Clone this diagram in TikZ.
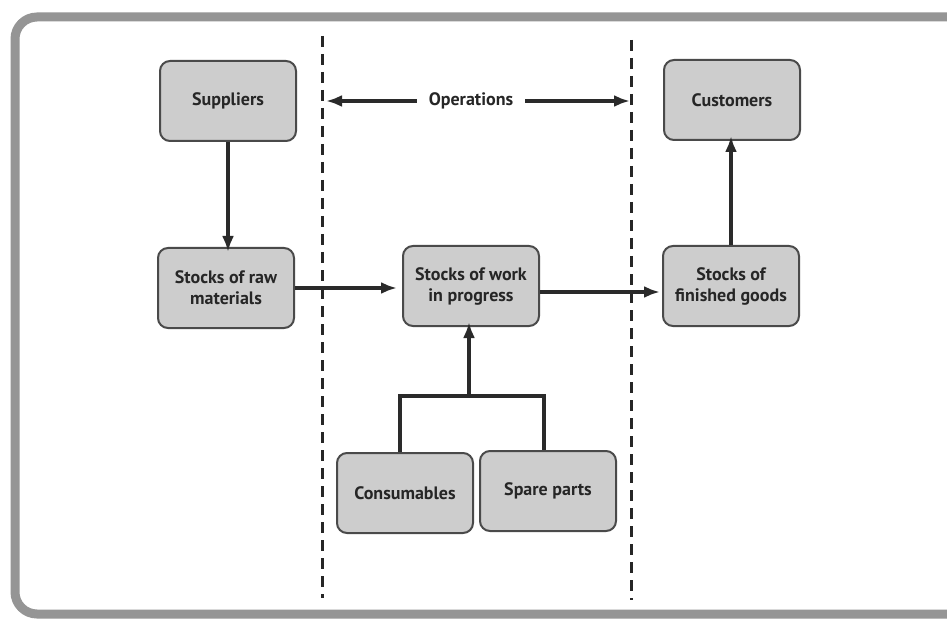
\documentclass[tikz,border=0pt]{standalone}
\usepackage{fontspec}
\setmainfont{PT Sans}
\usetikzlibrary{arrows.meta}
\definecolor{boxfill}{HTML}{CDCDCD}
\definecolor{boxline}{HTML}{4A4A4A}
\definecolor{framegray}{HTML}{959595}
\definecolor{inkline}{HTML}{2A2A2A}
\tikzset{
  labelfont/.style={font=\fontsize{18}{21}\selectfont\bfseries, text=black!85},
  stockbox/.style={draw=boxline, fill=boxfill, line width=2pt, rounded corners=10pt,
    minimum width=136pt, minimum height=80pt, align=center, labelfont},
  flow/.style={draw=inkline, line width=3.2pt, -{Latex[length=16pt,width=12pt]}},
  plain/.style={draw=inkline, line width=3.2pt},
  divider/.style={draw=black!85, line width=3pt, dash pattern=on 11pt off 7pt},
}
\begin{document}
\begin{tikzpicture}[x=1pt,y=-1pt]
  \useasboundingbox (0,0) rectangle (947,620);
  \fill[white] (0,0) rectangle (947,620);
  % outer frame, running off the right edge
  \begin{scope}
    \clip (0,0) rectangle (947,620);
    \draw[framegray, line width=9pt, rounded corners=22pt] (15,17) rectangle (980,614);
  \end{scope}

  % operations boundaries
  \coordinate (d1t) at (322,36);
  \coordinate (d1b) at (322,598);
  \coordinate (d2t) at (631,40);
  \coordinate (d2b) at (631,600);
  \draw[divider] (d1t) -- (d1b);
  \draw[divider] (d2t) -- (d2b);

  \node[labelfont, inner sep=0pt] (ops) at (471,101) {Operations};
  \coordinate (opl) at (326,101);
  \coordinate (opr) at (630,101);
  \draw[flow] ([xshift=-12pt]ops.west) -- (opl);
  \draw[flow] ([xshift=12pt]ops.east) -- (opr);

  % stock points
  \node[stockbox] (sup) at (228,101) {Suppliers};
  \node[stockbox] (raw) at (226,288) {Stocks of raw\\materials};
  \node[stockbox] (wip) at (471,286) {Stocks of work\\in progress};
  \node[stockbox] (fin) at (731,286) {Stocks of\\finished goods};
  \node[stockbox] (cus) at (732,100) {Customers};
  \node[stockbox] (con) at (405,493) {Consumables};
  \node[stockbox] (spa) at (548,491) {Spare parts};

  % material flow
  \draw[flow] (sup.south -| 228,0) -- ([yshift=-5pt]raw.north -| 228,0);
  \draw[flow] (raw.east |- 0,288) -- ([xshift=-5pt]wip.west |- 0,288);
  \draw[flow] (wip.east |- 0,292) -- ([xshift=-2pt]fin.west |- 0,292);
  \draw[flow] (fin.north -| 731,0) -- ([yshift=5pt]cus.south -| 731,0);

  % consumables and spare parts feed work in progress
  \coordinate (join) at (469,396);
  \draw[plain] (con.north -| 400,0) |- (join) -| (spa.north -| 544,0);
  \draw[flow] (join) -- ([yshift=5pt]wip.south -| 469,0);
\end{tikzpicture}
\end{document}
